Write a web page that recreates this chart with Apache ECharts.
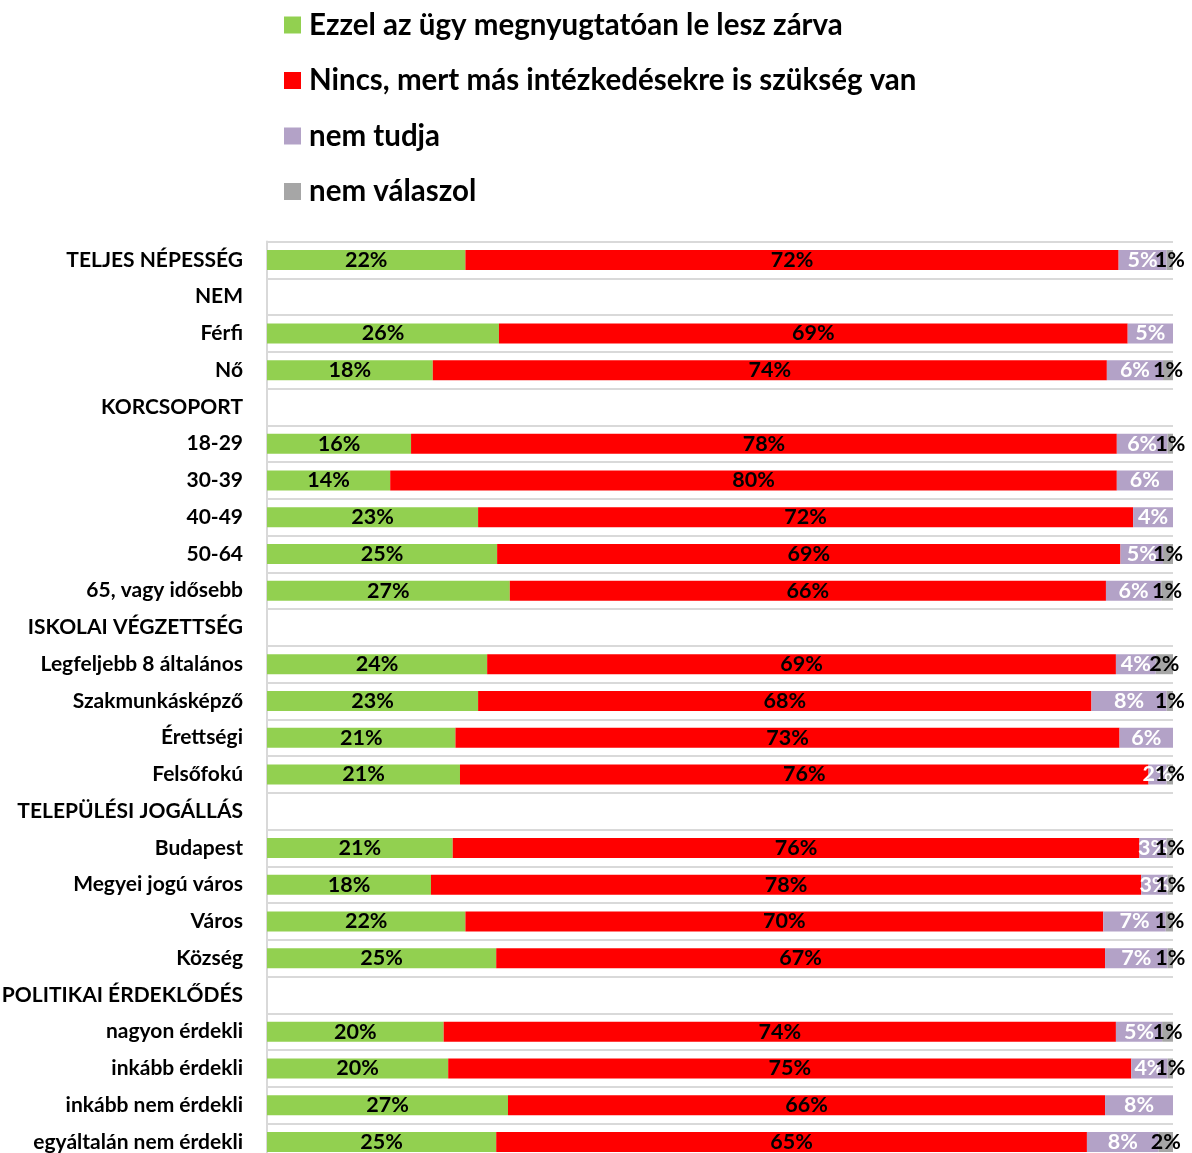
<!DOCTYPE html>
<html>
<head>
<meta charset="utf-8">
<script src="https://cdn.jsdelivr.net/npm/echarts@6/dist/echarts.min.js"></script>
<style>
  html, body { margin: 0; padding: 0; background: #fff; }
  #chart { width: 1192px; height: 1153px; }
</style>
</head>
<body>
<div id="chart"></div>
<script>
const categories = [
  'TELJES NÉPESSÉG', 'NEM', 'Férfi', 'Nő', 'KORCSOPORT',
  '18-29', '30-39', '40-49', '50-64', '65, vagy idősebb',
  'ISKOLAI VÉGZETTSÉG', 'Legfeljebb 8 általános', 'Szakmunkásképző', 'Érettségi', 'Felsőfokú',
  'TELEPÜLÉSI JOGÁLLÁS', 'Budapest', 'Megyei jogú város', 'Város', 'Község',
  'POLITIKAI ÉRDEKLŐDÉS', 'nagyon érdekli', 'inkább érdekli', 'inkább nem érdekli', 'egyáltalán nem érdekli'
];
const seriesNames = [
  'Ezzel az ügy megnyugtatóan le lesz zárva',
  'Nincs, mert más intézkedésekre is szükség van',
  'nem tudja',
  'nem válaszol'
];
// null = heading row
const lezarva = [21.9, null, 25.6, 18.3, null, 15.9, 13.6, 23.3, 25.4, 26.8, null, 24.3, 23.3, 20.8, 21.3, null, 20.5, 18.1, 21.9, 25.3, null, 19.5, 20.0, 26.6, 25.3];
const nincs   = [72.1, null, 69.4, 74.4, null, 77.9, 80.2, 72.3, 68.8, 65.8, null, 69.4, 67.7, 73.3, 76.0, null, 75.8, 78.4, 70.4, 67.2, null, 74.2, 75.4, 65.9, 65.2];
const nemTudja = [5.3, null, 5.0, 6.2, null, 5.6, 6.2, 4.4, 4.7, 6.1, null, 4.4, 8.3, 5.9, 2.0, null, 3.0, 2.9, 6.9, 6.9, null, 5.1, 4.0, 7.5, 7.9];
const nemValaszol = [0.7, null, 0, 1.1, null, 0.6, 0, 0, 1.1, 1.3, null, 1.9, 0.7, 0, 0.7, null, 0.7, 0.6, 0.8, 0.6, null, 1.2, 0.6, 0, 1.6];
const colors = ['#92d050', '#ff0000', '#b3a2c7', '#a6a6a6'];
const labelColors = ['#000', '#000', '#fff', '#000'];

const FONT = 'Lato';
const chart = echarts.init(document.getElementById('chart'));

const data = [lezarva, nincs, nemTudja, nemValaszol];
const series = data.map(function (vals, i) {
  return {
    name: seriesNames[i],
    type: 'bar',
    stack: 'total',
    barWidth: 20,
    itemStyle: { color: colors[i] },
    label: {
      show: true,
      position: 'inside',
      color: labelColors[i],
      fontFamily: FONT,
      fontWeight: 'bold',
      fontSize: 21.5,
      formatter: function (p) {
        if (p.value == null || p.value === 0) return '';
        return Math.round(p.value) + '%';
      }
    },
    data: vals
  };
});

chart.setOption({
  animation: false,
  legend: {
    orient: 'vertical',
    left: 284,
    top: 10,
    padding: 0,
    itemWidth: 17,
    itemHeight: 17,
    itemGap: 25.5,
    icon: 'rect',
    textStyle: { fontFamily: FONT, fontWeight: 'bold', fontSize: 29.5, color: '#000', lineHeight: 29, padding: [0, 0, 0, 3] },
    data: seriesNames
  },
  grid: { left: 267, right: 19, top: 241.6, height: 918.75, outerBoundsMode: 'none' },
  xAxis: {
    type: 'value',
    min: 0,
    max: 100,
    show: false
  },
  yAxis: {
    type: 'category',
    inverse: true,
    data: categories,
    axisLine: { show: true, lineStyle: { color: '#d9d9d9', width: 2 } },
    axisTick: { show: false },
    splitLine: { show: true, lineStyle: { color: '#d9d9d9', width: 2 } },
    axisLabel: { fontFamily: FONT, fontWeight: 'bold', fontSize: 21, color: '#000', margin: 24 }
  },
  series: series
});
</script>
</body>
</html>
